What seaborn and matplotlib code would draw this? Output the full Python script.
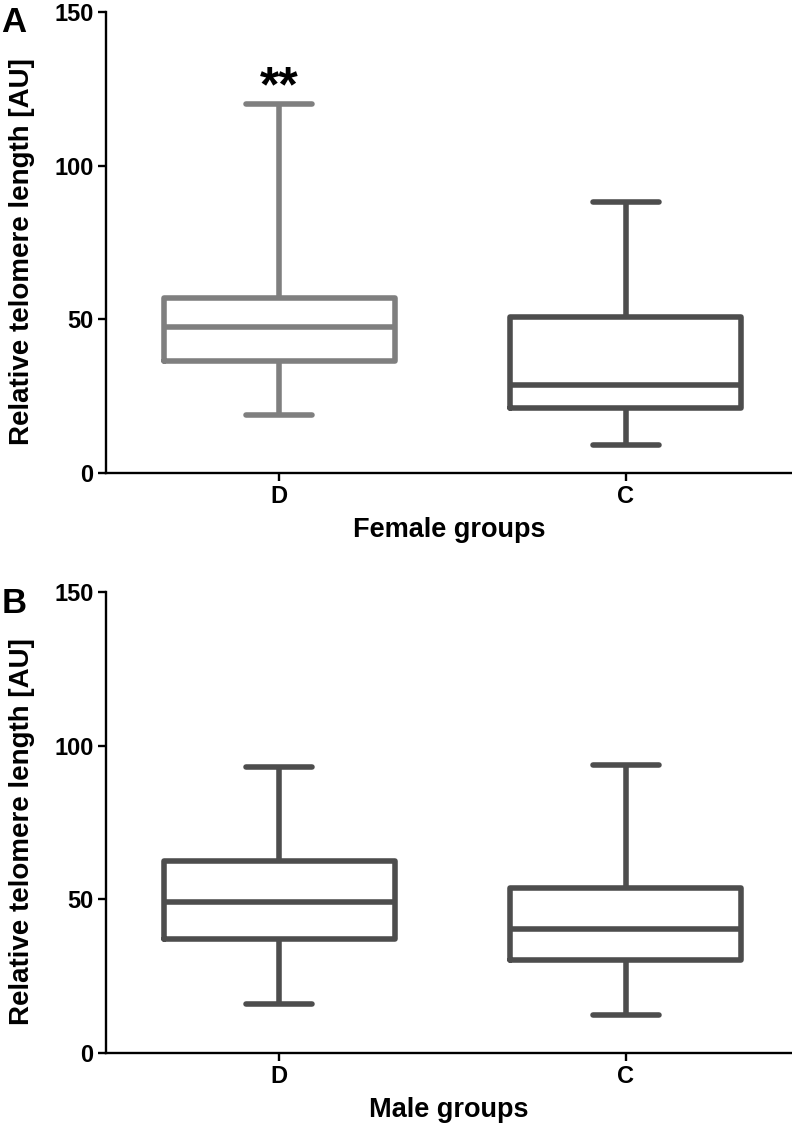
import numpy as np
import pandas as pd
import seaborn as sns
import matplotlib.pyplot as plt

# box stats: [min, q1, median, q3, max]
groups = ["D", "C"]
female_D = [19, 36.5, 47.5, 57, 120]
female_C = [9, 21, 28.5, 50.7, 88.3]
male_D = [16, 37, 49.2, 62.5, 93.2]
male_C = [12.3, 30.4, 40.2, 53.8, 93.6]

sns.set_style("ticks")
plt.rcParams['font.family'] = ['Liberation Sans', 'DejaVu Sans']
plt.rcParams['font.weight'] = 'bold'
plt.rcParams['axes.labelweight'] = 'bold'
plt.rcParams['text.color'] = 'black'
plt.rcParams['axes.labelcolor'] = 'black'
plt.rcParams['axes.edgecolor'] = 'black'
plt.rcParams['xtick.color'] = 'black'
plt.rcParams['ytick.color'] = 'black'

light = "#7f7f7f"
dark = "#4d4d4d"

fig = plt.figure(figsize=(7.92, 11.28), dpi=100)
ax1 = fig.add_axes([0.1338, 0.5807, 0.8662, 0.4087])
ax2 = fig.add_axes([0.1338, 0.0665, 0.8662, 0.4087])


def make_df(d_vals, c_vals):
    # five points per group -> quartiles equal the read-off stats, whiskers = min/max
    return pd.DataFrame({
        "group": ["D"] * len(d_vals) + ["C"] * len(c_vals),
        "value": d_vals + c_vals,
    })


panels = [
    (ax1, make_df(female_D, female_C), {"D": light, "C": dark}, "Female groups", "A", 0.995),
    (ax2, make_df(male_D, male_C), {"D": dark, "C": dark}, "Male groups", "B", 0.48),
]

for ax, df, pal, xlab, letter, ly in panels:
    sns.boxplot(data=df, x="group", y="value", hue="group", order=groups,
                palette=pal, fill=False, whis=(0, 100), width=0.666,
                linewidth=4, showfliers=False, legend=False, ax=ax,
                capwidths=0.19)
    ax.set_xlim(-0.5, 1.48)
    ax.set_ylim(0, 150)
    ax.set_yticks([0, 50, 100, 150])
    ax.set_xlabel(xlab, fontsize=19.5, fontweight='bold', labelpad=6)
    ax.set_ylabel("Relative telomere length [AU]", fontsize=20, fontweight='bold')
    ax.yaxis.set_label_coords(-0.103, 0.48)
    ax.tick_params(axis='both', labelsize=17, width=1.7, length=6, pad=3)
    for lab in ax.get_xticklabels() + ax.get_yticklabels():
        lab.set_fontweight('bold')
    for s in ["left", "bottom"]:
        ax.spines[s].set_linewidth(1.7)
    sns.despine(ax=ax)
    fig.text(0.002, ly, letter, fontsize=25, fontweight='bold', va='top', ha='left')

ax1.text(0, 121, "**", fontsize=36, fontweight='bold', ha='center', va='baseline')

plt.savefig("out.png", dpi=100)
